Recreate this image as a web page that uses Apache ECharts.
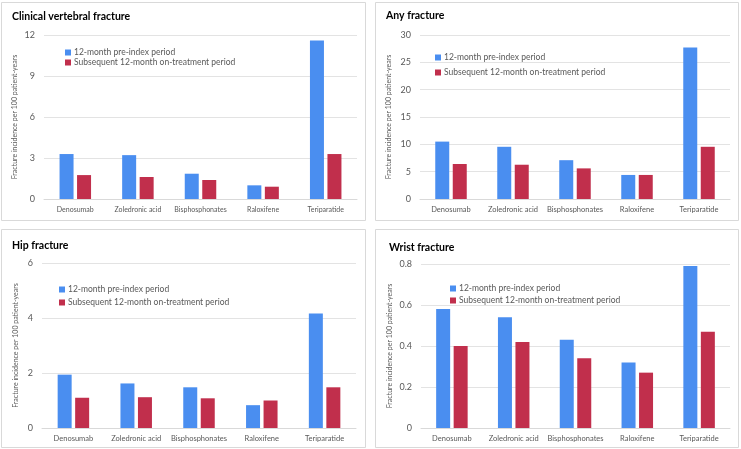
<!DOCTYPE html>
<html><head><meta charset="utf-8">
<script src="https://cdn.jsdelivr.net/npm/echarts@6/dist/echarts.min.js"></script>
<style>html,body{margin:0;padding:0;background:#fff}#c{width:741px;height:449px}</style>
</head><body><div id="c"></div>
<script>
const categories = ['Denosumab','Zoledronic acid','Bisphosphonates','Raloxifene','Teriparatide'];
const seriesNames = ['12-month pre-index period','Subsequent 12-month on-treatment period'];
const panelTitles = ['Clinical vertebral fracture','Any fracture','Hip fracture','Wrist fracture'];
const yAxisName = 'Fracture incidence per 100 patient-years';

const vertebralPre = [3.29, 3.21, 1.85, 1.00, 11.6];
const vertebralPost = [1.75, 1.61, 1.39, 0.90, 3.29];
const anyPre = [10.5, 9.55, 7.1, 4.4, 27.7];
const anyPost = [6.4, 6.27, 5.6, 4.4, 9.55];
const hipPre = [1.94, 1.62, 1.48, 0.83, 4.16];
const hipPost = [1.10, 1.12, 1.08, 1.00, 1.48];
const wristPre = [0.58, 0.54, 0.43, 0.32, 0.79];
const wristPost = [0.40, 0.42, 0.34, 0.27, 0.47];

const yMax = [12, 30, 6, 0.8];
const yInterval = [3, 5, 2, 0.2];

const preData = [vertebralPre, anyPre, hipPre, wristPre];
const postData = [vertebralPost, anyPost, hipPost, wristPost];

const FONT = 'Lato';
const BLUE = '#4a8ef0';
const RED = '#c12f4c';
const GRAY = '#595959';

const layout = [
  {grid:{left:44,right:384,top:35,bottom:250}, title:{left:12,top:11}, legend:{left:65,top:48,itemGap:1}, nameGap:26, xfs:7, box:[1,2,364,218]},
  {grid:{left:420,right:11,top:35,bottom:250}, title:{left:386,top:10}, legend:{left:435,top:53,itemGap:6}, nameGap:28, xfs:7.5, box:[375,2,363,218]},
  {grid:{left:42,right:385,top:263,bottom:21}, title:{left:12,top:240}, legend:{left:59,top:285,itemGap:4}, nameGap:23, xfs:7.5, box:[1,229,364,218]},
  {grid:{left:421,right:11,top:264,bottom:21}, title:{left:389,top:242}, legend:{left:450,top:284,itemGap:3}, nameGap:28, xfs:7.5, box:[375,229,363,218]}
];

const option = {
  animation:false,
  backgroundColor:'#fff',
  textStyle:{fontFamily:FONT},
  color:[BLUE,RED],
  title:[], legend:[], grid:[], xAxis:[], yAxis:[], series:[],
  graphic: layout.map(l => ({type:'rect', shape:{x:l.box[0]+0.5,y:l.box[1]+0.5,width:l.box[2],height:l.box[3]}, style:{fill:'none',stroke:'#d9d9d9',lineWidth:1}, silent:true, z:-1}))
};

layout.forEach((l,i) => {
  option.title.push({text:panelTitles[i], left:l.title.left, top:l.title.top, padding:0,
    textStyle:{fontFamily:FONT,fontSize:10.5,fontWeight:'bold',color:'#000'}});
  option.legend.push({data:seriesNames, orient:'vertical', left:l.legend.left, top:l.legend.top, padding:0,
    itemWidth:6, itemHeight:6, itemGap:l.legend.itemGap, icon:'rect',
    textStyle:{fontFamily:FONT,fontSize:8.5,color:GRAY,padding:[0,0,0,-2]}});
  option.grid.push(Object.assign({containLabel:false}, l.grid));
  option.xAxis.push({type:'category', gridIndex:i, data:categories,
    axisLine:{lineStyle:{color:'#d9d9d9'}}, axisTick:{show:false},
    axisLabel:{interval:0,fontFamily:FONT,fontSize:l.xfs,color:GRAY,margin:7}});
  option.yAxis.push({type:'value', gridIndex:i, min:0, max:yMax[i], interval:yInterval[i],
    name:yAxisName, nameLocation:'middle', nameGap:l.nameGap,
    nameTextStyle:{fontFamily:FONT,fontSize:7,color:GRAY},
    axisLine:{show:false}, axisTick:{show:false},
    axisLabel:{fontFamily:FONT,fontSize:9,color:GRAY,margin:9},
    splitLine:{lineStyle:{color:'#e3e3e3'}}});
  option.series.push({name:seriesNames[0], type:'bar', xAxisIndex:i, yAxisIndex:i, data:preData[i], barWidth:14, barGap:'25%', itemStyle:{color:BLUE}});
  option.series.push({name:seriesNames[1], type:'bar', xAxisIndex:i, yAxisIndex:i, data:postData[i], barWidth:14, barGap:'25%', itemStyle:{color:RED}});
});

const chart = echarts.init(document.getElementById('c'), null, {renderer:'canvas'});
chart.setOption(option);
</script></body></html>
